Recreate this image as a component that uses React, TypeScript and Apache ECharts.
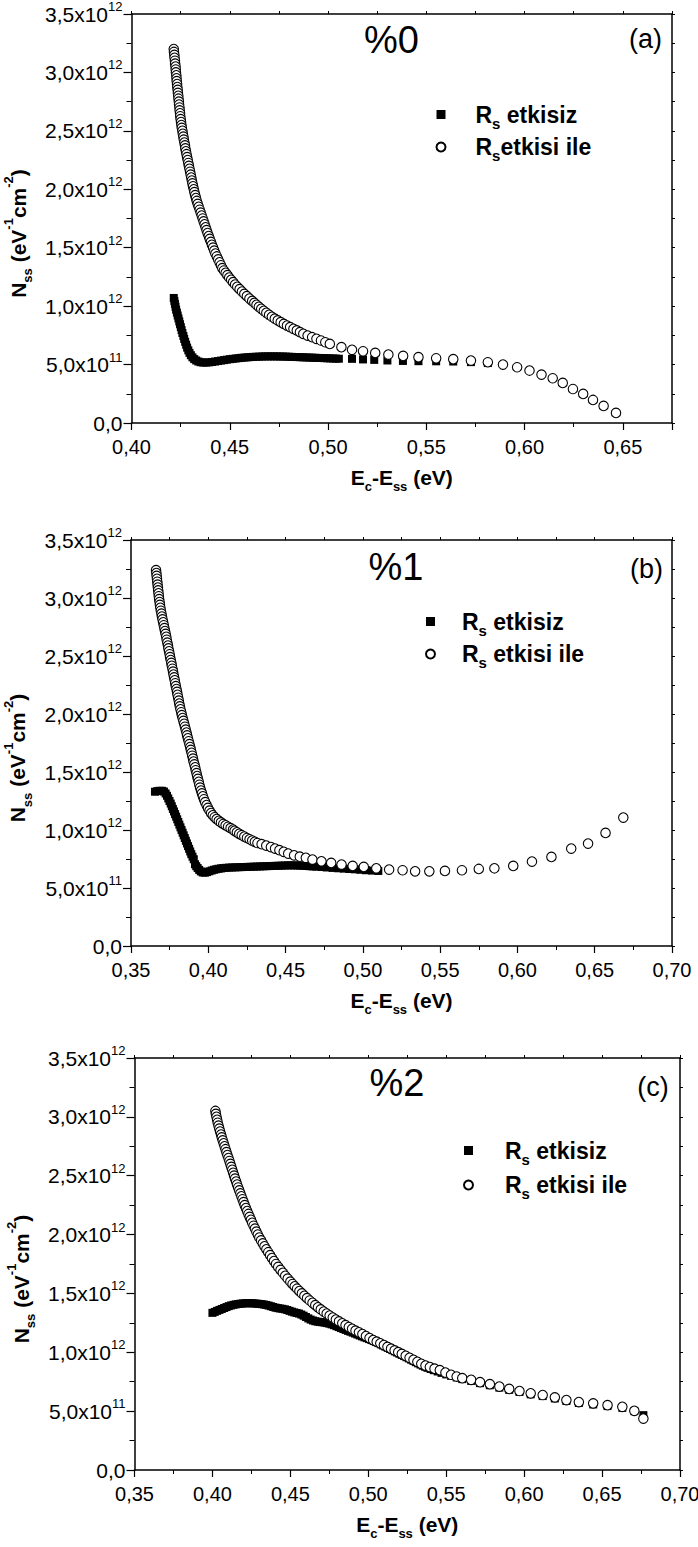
import React, { useEffect, useRef } from 'react';
import * as echarts from 'echarts';

const FONT = '"Liberation Sans", Arial, Helvetica, sans-serif';
const UNIT = 1e12; // y values below are in units of 1e12 eV^-1 cm^-2

const PANEL_TITLES = ['%0', '%1', '%2'];
const PANEL_TAGS = ['(a)', '(b)', '(c)'];
const X_MIN = [0.40, 0.35, 0.35];
const X_MAX = [0.675, 0.70, 0.70];
const X_STEP = 0.05;
const Y_MIN = 0;
const Y_MAX = 3.5e12;
const Y_STEP = 0.5e12;
const SERIES_NAMES = ['Rs etkisiz', 'Rs etkisi ile'];

// ---- panel (a) %0 ----
const A_SQUARES: [number, number][] = [
  [0.4215, 1.070], [0.4218, 1.045], [0.4221, 1.020], [0.4224, 0.995], [0.4227, 0.970], [0.4231, 0.945],
  [0.4235, 0.920], [0.4239, 0.895], [0.4243, 0.870], [0.4247, 0.845], [0.4251, 0.820], [0.4255, 0.795],
  [0.4259, 0.770], [0.4264, 0.745], [0.4268, 0.720], [0.4273, 0.695], [0.4278, 0.670], [0.4283, 0.645],
  [0.4289, 0.622], [0.4295, 0.600], [0.4302, 0.580], [0.4310, 0.562], [0.4319, 0.547], [0.4329, 0.535],
  [0.4340, 0.526], [0.4352, 0.520], [0.4365, 0.517], [0.4380, 0.517], [0.4395, 0.519], [0.4410, 0.522],
  [0.4425, 0.526], [0.4440, 0.530], [0.4455, 0.534], [0.4470, 0.538], [0.4485, 0.542], [0.4500, 0.546],
  [0.4515, 0.549], [0.4530, 0.552], [0.4545, 0.555], [0.4560, 0.558], [0.4575, 0.560], [0.4590, 0.562],
  [0.4605, 0.564], [0.4620, 0.566], [0.4635, 0.567], [0.4650, 0.568], [0.4665, 0.569], [0.4680, 0.570],
  [0.4695, 0.570], [0.4710, 0.570], [0.4725, 0.570], [0.4740, 0.570], [0.4755, 0.569], [0.4770, 0.569],
  [0.4785, 0.568], [0.4800, 0.567], [0.4815, 0.566], [0.4830, 0.565], [0.4845, 0.564], [0.4860, 0.563],
  [0.4875, 0.562], [0.4890, 0.561], [0.4905, 0.560], [0.4920, 0.559], [0.4935, 0.558], [0.4950, 0.557],
  [0.4965, 0.556], [0.4980, 0.555], [0.4995, 0.554], [0.5010, 0.553], [0.5025, 0.552], [0.5040, 0.551],
  [0.5055, 0.550], [0.5122, 0.549], [0.5178, 0.544], [0.5235, 0.540], [0.5302, 0.535], [0.5381, 0.531],
  [0.5460, 0.529], [0.5550, 0.528], [0.5637, 0.526], [0.5727, 0.521], [0.5813, 0.513],
];
const A_CIRCLES: [number, number][] = [
  [0.4215, 3.200], [0.4216, 3.175], [0.4218, 3.150], [0.4219, 3.125], [0.4221, 3.100], [0.4222, 3.075],
  [0.4224, 3.050], [0.4225, 3.025], [0.4226, 3.000], [0.4228, 2.975], [0.4229, 2.950], [0.4230, 2.925],
  [0.4232, 2.900], [0.4233, 2.875], [0.4235, 2.850], [0.4236, 2.825], [0.4238, 2.800], [0.4239, 2.775],
  [0.4241, 2.750], [0.4242, 2.725], [0.4244, 2.700], [0.4245, 2.675], [0.4247, 2.650], [0.4248, 2.625],
  [0.4250, 2.600], [0.4252, 2.575], [0.4254, 2.550], [0.4256, 2.525], [0.4259, 2.500], [0.4261, 2.475],
  [0.4264, 2.450], [0.4266, 2.425], [0.4269, 2.400], [0.4272, 2.375], [0.4274, 2.350], [0.4277, 2.325],
  [0.4280, 2.300], [0.4283, 2.275], [0.4286, 2.250], [0.4289, 2.225], [0.4292, 2.200], [0.4295, 2.175],
  [0.4298, 2.150], [0.4301, 2.125], [0.4304, 2.100], [0.4307, 2.075], [0.4310, 2.050], [0.4313, 2.025],
  [0.4317, 2.000], [0.4320, 1.975], [0.4324, 1.950], [0.4328, 1.925], [0.4332, 1.900], [0.4337, 1.875],
  [0.4342, 1.850], [0.4347, 1.825], [0.4352, 1.800], [0.4357, 1.775], [0.4362, 1.750], [0.4367, 1.725],
  [0.4372, 1.700], [0.4377, 1.675], [0.4382, 1.650], [0.4387, 1.625], [0.4393, 1.600], [0.4398, 1.575],
  [0.4404, 1.550], [0.4409, 1.525], [0.4415, 1.500], [0.4421, 1.475], [0.4427, 1.450], [0.4434, 1.425],
  [0.4441, 1.400], [0.4448, 1.375], [0.4455, 1.350], [0.4462, 1.325], [0.4470, 1.305], [0.4479, 1.285],
  [0.4488, 1.265], [0.4497, 1.245], [0.4507, 1.225], [0.4517, 1.205], [0.4527, 1.185], [0.4538, 1.165],
  [0.4550, 1.145], [0.4562, 1.125], [0.4574, 1.105], [0.4587, 1.085], [0.4600, 1.065], [0.4614, 1.045],
  [0.4625, 1.028], [0.4636, 1.011], [0.4648, 0.994], [0.4660, 0.977], [0.4673, 0.960], [0.4686, 0.943],
  [0.4700, 0.926], [0.4714, 0.909], [0.4729, 0.893], [0.4744, 0.878], [0.4759, 0.863], [0.4775, 0.848],
  [0.4791, 0.834], [0.4807, 0.820], [0.4824, 0.806], [0.4841, 0.792], [0.4857, 0.777], [0.4874, 0.763],
  [0.4896, 0.748], [0.4919, 0.734], [0.4941, 0.720], [0.4964, 0.706], [0.4986, 0.691], [0.5009, 0.677],
  [0.5068, 0.649], [0.5122, 0.626], [0.5178, 0.614], [0.5240, 0.600], [0.5307, 0.586], [0.5382, 0.574],
  [0.5460, 0.563], [0.5550, 0.554], [0.5637, 0.546], [0.5727, 0.534], [0.5813, 0.520], [0.5890, 0.500],
  [0.5962, 0.477], [0.6025, 0.449], [0.6086, 0.414], [0.6143, 0.383], [0.6194, 0.343], [0.6246, 0.291],
  [0.6298, 0.249], [0.6348, 0.197], [0.6402, 0.146], [0.6465, 0.086],
];

// ---- panel (b) %1 ----
const B_SQUARES: [number, number][] = [
  [0.3655, 1.330], [0.3670, 1.335], [0.3685, 1.338], [0.3700, 1.338], [0.3713, 1.332], [0.3724, 1.315],
  [0.3733, 1.295], [0.3741, 1.272], [0.3749, 1.250], [0.3757, 1.228], [0.3764, 1.205], [0.3771, 1.182],
  [0.3778, 1.160], [0.3785, 1.137], [0.3792, 1.115], [0.3799, 1.092], [0.3806, 1.069], [0.3813, 1.046],
  [0.3820, 1.023], [0.3827, 1.000], [0.3834, 0.977], [0.3841, 0.954], [0.3848, 0.931], [0.3855, 0.907],
  [0.3862, 0.884], [0.3869, 0.861], [0.3876, 0.838], [0.3883, 0.815], [0.3890, 0.792], [0.3898, 0.770],
  [0.3906, 0.748], [0.3914, 0.705], [0.3922, 0.688], [0.3931, 0.672], [0.3941, 0.656], [0.3952, 0.643],
  [0.3964, 0.634], [0.3978, 0.632], [0.3992, 0.637], [0.4007, 0.644], [0.4022, 0.651], [0.4037, 0.657],
  [0.4052, 0.662], [0.4067, 0.666], [0.4082, 0.669], [0.4097, 0.672], [0.4115, 0.674], [0.4135, 0.676],
  [0.4155, 0.677], [0.4175, 0.678], [0.4195, 0.679], [0.4215, 0.680], [0.4235, 0.681], [0.4255, 0.682],
  [0.4275, 0.683], [0.4295, 0.684], [0.4315, 0.685], [0.4335, 0.686], [0.4355, 0.687], [0.4375, 0.688],
  [0.4395, 0.689], [0.4415, 0.690], [0.4435, 0.691], [0.4455, 0.692], [0.4475, 0.693], [0.4495, 0.694],
  [0.4515, 0.695], [0.4535, 0.695], [0.4555, 0.695], [0.4575, 0.694], [0.4595, 0.693], [0.4615, 0.692],
  [0.4635, 0.690], [0.4655, 0.688], [0.4675, 0.686], [0.4700, 0.684], [0.4732, 0.681], [0.4766, 0.677],
  [0.4804, 0.673], [0.4840, 0.670], [0.4876, 0.667], [0.4912, 0.664], [0.4948, 0.661], [0.4984, 0.657],
  [0.5020, 0.653], [0.5060, 0.650], [0.5100, 0.647],
];
const B_CIRCLES: [number, number][] = [
  [0.3662, 3.240], [0.3664, 3.215], [0.3666, 3.190], [0.3668, 3.165], [0.3670, 3.140], [0.3672, 3.115],
  [0.3674, 3.090], [0.3676, 3.065], [0.3678, 3.040], [0.3680, 3.015], [0.3682, 2.990], [0.3685, 2.965],
  [0.3687, 2.940], [0.3690, 2.915], [0.3693, 2.890], [0.3697, 2.865], [0.3700, 2.840], [0.3704, 2.815],
  [0.3708, 2.790], [0.3712, 2.765], [0.3716, 2.740], [0.3720, 2.715], [0.3724, 2.690], [0.3728, 2.665],
  [0.3731, 2.640], [0.3735, 2.615], [0.3739, 2.590], [0.3742, 2.565], [0.3746, 2.540], [0.3750, 2.515],
  [0.3753, 2.490], [0.3757, 2.465], [0.3761, 2.440], [0.3764, 2.415], [0.3768, 2.390], [0.3772, 2.365],
  [0.3775, 2.340], [0.3779, 2.315], [0.3783, 2.290], [0.3786, 2.265], [0.3790, 2.240], [0.3794, 2.215],
  [0.3798, 2.190], [0.3801, 2.165], [0.3805, 2.140], [0.3809, 2.115], [0.3812, 2.090], [0.3816, 2.065],
  [0.3820, 2.040], [0.3825, 2.015], [0.3829, 1.990], [0.3834, 1.965], [0.3839, 1.940], [0.3844, 1.915],
  [0.3849, 1.890], [0.3854, 1.865], [0.3859, 1.840], [0.3863, 1.815], [0.3868, 1.790], [0.3873, 1.765],
  [0.3878, 1.740], [0.3883, 1.715], [0.3887, 1.690], [0.3892, 1.665], [0.3896, 1.640], [0.3901, 1.615],
  [0.3905, 1.590], [0.3910, 1.565], [0.3915, 1.540], [0.3919, 1.515], [0.3924, 1.490], [0.3928, 1.465],
  [0.3933, 1.440], [0.3938, 1.415], [0.3942, 1.390], [0.3947, 1.365], [0.3953, 1.340], [0.3959, 1.315],
  [0.3965, 1.290], [0.3972, 1.265], [0.3980, 1.240], [0.3989, 1.215], [0.3998, 1.190], [0.4008, 1.167],
  [0.4018, 1.146], [0.4029, 1.127], [0.4041, 1.110], [0.4054, 1.094], [0.4068, 1.079], [0.4082, 1.065],
  [0.4097, 1.052], [0.4112, 1.040], [0.4128, 1.028], [0.4144, 1.016], [0.4160, 1.004], [0.4170, 0.993],
  [0.4185, 0.980], [0.4200, 0.967], [0.4216, 0.955], [0.4233, 0.943], [0.4250, 0.931], [0.4267, 0.920],
  [0.4284, 0.909], [0.4301, 0.898], [0.4318, 0.888], [0.4345, 0.878], [0.4375, 0.866], [0.4405, 0.853],
  [0.4432, 0.840], [0.4460, 0.826], [0.4488, 0.812], [0.4517, 0.797], [0.4555, 0.782], [0.4592, 0.770],
  [0.4631, 0.760], [0.4674, 0.745], [0.4732, 0.730], [0.4795, 0.716], [0.4862, 0.702], [0.4934, 0.690],
  [0.5006, 0.682], [0.5087, 0.670], [0.5170, 0.659], [0.5257, 0.653], [0.5338, 0.644], [0.5430, 0.644],
  [0.5531, 0.647], [0.5641, 0.653], [0.5750, 0.664], [0.5851, 0.670], [0.5973, 0.690], [0.6094, 0.728],
  [0.6220, 0.768], [0.6348, 0.840], [0.6457, 0.883], [0.6570, 0.975], [0.6685, 1.107],
];

// ---- panel (c) %2 ----
const C_SQUARES: [number, number][] = [
  [0.4000, 1.335], [0.4015, 1.343], [0.4030, 1.352], [0.4045, 1.360], [0.4060, 1.368], [0.4075, 1.376],
  [0.4090, 1.384], [0.4105, 1.392], [0.4120, 1.398], [0.4135, 1.403], [0.4150, 1.407], [0.4165, 1.410],
  [0.4180, 1.413], [0.4195, 1.415], [0.4210, 1.416], [0.4225, 1.417], [0.4240, 1.417], [0.4255, 1.416],
  [0.4270, 1.415], [0.4285, 1.413], [0.4300, 1.411], [0.4315, 1.409], [0.4330, 1.406], [0.4345, 1.402],
  [0.4360, 1.397], [0.4375, 1.391], [0.4390, 1.385], [0.4405, 1.379], [0.4420, 1.375], [0.4435, 1.372],
  [0.4450, 1.369], [0.4465, 1.365], [0.4480, 1.359], [0.4495, 1.352], [0.4510, 1.345], [0.4525, 1.339],
  [0.4540, 1.334], [0.4555, 1.329], [0.4570, 1.321], [0.4585, 1.311], [0.4600, 1.300], [0.4615, 1.288],
  [0.4630, 1.278], [0.4645, 1.270], [0.4660, 1.264], [0.4675, 1.260], [0.4690, 1.257], [0.4705, 1.255],
  [0.4720, 1.252], [0.4735, 1.248], [0.4750, 1.243], [0.4765, 1.237], [0.4780, 1.230], [0.4795, 1.222],
  [0.4810, 1.214], [0.4825, 1.206], [0.4840, 1.198], [0.4855, 1.190], [0.4870, 1.182], [0.4885, 1.175],
  [0.4900, 1.167], [0.4915, 1.159], [0.4930, 1.151], [0.4945, 1.143], [0.4960, 1.135], [0.4975, 1.127],
  [0.4990, 1.120], [0.5005, 1.112], [0.5020, 1.104], [0.5035, 1.096], [0.5050, 1.087], [0.5065, 1.078],
  [0.5080, 1.068], [0.5095, 1.058], [0.5110, 1.048], [0.5125, 1.038], [0.5140, 1.028], [0.5155, 1.018],
  [0.5170, 1.008], [0.5185, 0.998], [0.5200, 0.988], [0.5215, 0.978], [0.5230, 0.968], [0.5245, 0.958],
  [0.5260, 0.948], [0.5275, 0.937], [0.5290, 0.927], [0.5305, 0.916], [0.5320, 0.906], [0.5335, 0.896],
  [0.5350, 0.886], [0.5365, 0.877], [0.5380, 0.868], [0.5400, 0.858], [0.5420, 0.848], [0.5445, 0.837],
  [0.5470, 0.825], [0.5500, 0.812], [0.5531, 0.800], [0.5567, 0.786], [0.5603, 0.772], [0.5660, 0.757],
  [0.5717, 0.738], [0.5780, 0.720], [0.5841, 0.700], [0.5904, 0.681], [0.5970, 0.663], [0.6042, 0.643],
  [0.6119, 0.628], [0.6197, 0.608], [0.6271, 0.586], [0.6351, 0.569], [0.6443, 0.557], [0.6535, 0.543],
  [0.6630, 0.528], [0.6707, 0.500], [0.6765, 0.466],
];
const C_CIRCLES: [number, number][] = [
  [0.4019, 3.050], [0.4022, 3.025], [0.4026, 3.000], [0.4030, 2.975], [0.4034, 2.950], [0.4039, 2.925],
  [0.4044, 2.900], [0.4049, 2.875], [0.4055, 2.850], [0.4060, 2.825], [0.4066, 2.800], [0.4072, 2.775],
  [0.4078, 2.750], [0.4084, 2.725], [0.4090, 2.700], [0.4096, 2.675], [0.4103, 2.650], [0.4109, 2.625],
  [0.4115, 2.600], [0.4121, 2.575], [0.4127, 2.550], [0.4133, 2.525], [0.4139, 2.500], [0.4145, 2.475],
  [0.4152, 2.450], [0.4158, 2.425], [0.4165, 2.400], [0.4172, 2.375], [0.4179, 2.350], [0.4186, 2.325],
  [0.4193, 2.300], [0.4200, 2.275], [0.4207, 2.250], [0.4215, 2.225], [0.4223, 2.200], [0.4231, 2.175],
  [0.4239, 2.150], [0.4247, 2.125], [0.4255, 2.100], [0.4264, 2.075], [0.4273, 2.050], [0.4282, 2.025],
  [0.4291, 2.000], [0.4301, 1.975], [0.4312, 1.950], [0.4323, 1.925], [0.4334, 1.900], [0.4346, 1.875],
  [0.4358, 1.850], [0.4370, 1.825], [0.4382, 1.800], [0.4395, 1.775], [0.4408, 1.750], [0.4422, 1.725],
  [0.4437, 1.700], [0.4452, 1.675], [0.4467, 1.650], [0.4483, 1.625], [0.4500, 1.600], [0.4514, 1.580],
  [0.4528, 1.560], [0.4543, 1.540], [0.4558, 1.520], [0.4574, 1.500], [0.4590, 1.480], [0.4607, 1.460],
  [0.4624, 1.440], [0.4642, 1.420], [0.4660, 1.400], [0.4677, 1.382], [0.4695, 1.364], [0.4714, 1.346],
  [0.4733, 1.329], [0.4752, 1.312], [0.4772, 1.295], [0.4792, 1.278], [0.4812, 1.262], [0.4833, 1.246],
  [0.4854, 1.230], [0.4875, 1.214], [0.4896, 1.199], [0.4918, 1.184], [0.4940, 1.170], [0.4962, 1.155],
  [0.4985, 1.138], [0.5008, 1.121], [0.5031, 1.104], [0.5054, 1.090], [0.5077, 1.076], [0.5100, 1.061],
  [0.5123, 1.046], [0.5146, 1.031], [0.5169, 1.016], [0.5192, 1.001], [0.5215, 0.986], [0.5240, 0.970],
  [0.5265, 0.953], [0.5290, 0.936], [0.5315, 0.919], [0.5340, 0.902], [0.5367, 0.887], [0.5395, 0.874],
  [0.5425, 0.861], [0.5459, 0.848], [0.5495, 0.828], [0.5531, 0.809], [0.5567, 0.794], [0.5603, 0.780],
  [0.5660, 0.766], [0.5717, 0.746], [0.5780, 0.729], [0.5841, 0.709], [0.5904, 0.689], [0.5970, 0.671],
  [0.6042, 0.651], [0.6119, 0.637], [0.6197, 0.617], [0.6271, 0.594], [0.6351, 0.577], [0.6443, 0.566],
  [0.6535, 0.551], [0.6630, 0.537], [0.6707, 0.503], [0.6765, 0.437],
];

const SQUARES = [A_SQUARES, B_SQUARES, C_SQUARES];
const CIRCLES = [A_CIRCLES, B_CIRCLES, C_CIRCLES];

// ---- layout (pixels) ----
const GRIDS = [
  { left: 131.5, top: 14, width: 540.5, height: 409 },
  { left: 131, top: 540, width: 541, height: 406 },
  { left: 134.5, top: 1058, width: 545.5, height: 412 },
];
const TITLE_POS = [[391.5, 40], [396, 567], [397, 1083]];
const TAG_POS = [[645.5, 39], [646.5, 569], [653, 1086.5]];
const LEGEND_POS = [
  { left: 435.5, top: 103, gap: 5, spacer: 25, tight: true },
  { left: 425, top: 610, gap: 5, spacer: 22, tight: false },
  { left: 463, top: 1139, gap: 7, spacer: 27, tight: false },
];

const BLACK = '#000';

function xLabel(v: number): string {
  const k = v / X_STEP;
  if (Math.abs(k - Math.round(k)) > 1e-6) return '';
  return v.toFixed(2).replace('.', ',');
}

function yLabel(v: number): string {
  if (v === 0) return '{m|0,0}';
  const exp = Math.floor(Math.log10(v) + 1e-9);
  const mant = (v / Math.pow(10, exp)).toFixed(1).replace('.', ',');
  return `{m|${mant}x10}{p|${exp}}`;
}

const tickRich = {
  m: { fontSize: 21, fontFamily: FONT, color: BLACK, lineHeight: 28 },
  p: { fontSize: 13, fontFamily: FONT, color: BLACK, lineHeight: 16, verticalAlign: 'top' },
};

const nameRich = {
  m: { fontSize: 21, fontWeight: 'bold', fontFamily: FONT, color: BLACK, lineHeight: 32 },
  s: { fontSize: 13, fontWeight: 'bold', fontFamily: FONT, color: BLACK, lineHeight: 2, verticalAlign: 'bottom' },
  p: { fontSize: 13, fontWeight: 'bold', fontFamily: FONT, color: BLACK, lineHeight: 12, verticalAlign: 'top' },
};

function buildOption() {
  const grid: any[] = [];
  const xAxis: any[] = [];
  const yAxis: any[] = [];
  const series: any[] = [];
  const legend: any[] = [];
  const graphic: any[] = [];

  for (let i = 0; i < 3; i++) {
    grid.push({ ...GRIDS[i], containLabel: false, outerBoundsMode: 'none' });
    const lineStyle = { color: BLACK, width: 1.5 };
    xAxis.push({
      type: 'value', gridIndex: i, position: 'bottom',
      min: X_MIN[i], max: X_MAX[i], interval: X_STEP,
      axisLine: { show: true, onZero: false, lineStyle },
      axisTick: { show: true, inside: false, length: 7, lineStyle: { color: BLACK, width: 1.2 } },
      minorTick: { show: true, splitNumber: 2, length: 4, lineStyle: { color: BLACK, width: 1 } },
      splitLine: { show: false }, minorSplitLine: { show: false },
      axisLabel: { formatter: xLabel, color: BLACK, fontSize: 20, fontFamily: FONT, margin: 13, lineHeight: 22 },
      name: '{m|E}{s|c}{m|-E}{s|ss}{m| (eV)}',
      nameLocation: 'middle', nameGap: 38,
      nameTextStyle: { rich: nameRich },
    });
    xAxis.push({
      type: 'value', gridIndex: i, position: 'top',
      min: X_MIN[i], max: X_MAX[i], interval: X_STEP,
      axisLine: { show: true, onZero: false, lineStyle },
      axisTick: { show: true, inside: false, length: 3, lineStyle: { color: BLACK, width: 1 } },
      minorTick: { show: true, splitNumber: 2, length: 3, lineStyle: { color: BLACK, width: 1 } },
      splitLine: { show: false }, axisLabel: { show: false },
    });
    yAxis.push({
      type: 'value', gridIndex: i, position: 'left',
      min: Y_MIN, max: Y_MAX, interval: Y_STEP,
      axisLine: { show: true, onZero: false, lineStyle },
      axisTick: { show: true, inside: false, length: 8, lineStyle: { color: BLACK, width: 1.2 } },
      minorTick: { show: true, splitNumber: 2, length: 5, lineStyle: { color: BLACK, width: 1 } },
      splitLine: { show: false }, minorSplitLine: { show: false },
      axisLabel: { formatter: yLabel, margin: 9, rich: tickRich },
      name: '{m|N}{s|ss}{m| (eV}{p|-1}{m|cm}{p|-2}{m|)}',
      nameLocation: 'middle', nameGap: 88,
      nameTextStyle: { rich: nameRich, padding: [0, 30, 0, 0] },
    });
    yAxis.push({
      type: 'value', gridIndex: i, position: 'right',
      min: Y_MIN, max: Y_MAX, interval: Y_STEP,
      axisLine: { show: true, onZero: false, lineStyle },
      axisTick: { show: true, inside: false, length: 3, lineStyle: { color: BLACK, width: 1 } },
      minorTick: { show: true, splitNumber: 2, length: 3, lineStyle: { color: BLACK, width: 1 } },
      splitLine: { show: false }, axisLabel: { show: false },
    });

    series.push({
      type: 'scatter', name: SERIES_NAMES[0], xAxisIndex: 2 * i, yAxisIndex: 2 * i,
      symbol: 'rect', symbolSize: 8, itemStyle: { color: BLACK, opacity: 1 }, silent: true,
      data: SQUARES[i].map(([x, y]) => [x, y * UNIT]),
    });
    series.push({
      type: 'scatter', name: SERIES_NAMES[1], xAxisIndex: 2 * i, yAxisIndex: 2 * i,
      symbol: 'circle', symbolSize: 9.5,
      itemStyle: { color: '#fff', borderColor: BLACK, borderWidth: 1.1, opacity: 1 }, silent: true,
      data: CIRCLES[i].map(([x, y]) => [x, y * UNIT]),
    });

    const lp = LEGEND_POS[i];
    legend.push({
      orient: 'vertical', left: lp.left, top: lp.top, itemGap: lp.gap,
      itemWidth: 9, itemHeight: 9, selectedMode: false, padding: 0,
      data: [{ name: SERIES_NAMES[0], icon: 'rect' }, { name: SERIES_NAMES[1], icon: 'circle' }],
      formatter: (name: string) => {
        if (name === SERIES_NAMES[0]) return '{g|}{r|R}{s|s}{r| etkisiz}';
        return lp.tight ? '{g|}{r|R}{s|s}{r|etkisi ile}' : '{g|}{r|R}{s|s}{r| etkisi ile}';
      },
      textStyle: {
        rich: {
          g: { width: lp.spacer, height: 2 },
          r: { fontSize: 23, fontWeight: 'bold', fontFamily: FONT, color: BLACK, lineHeight: 32 },
          s: { fontSize: 15, fontWeight: 'bold', fontFamily: FONT, color: BLACK, lineHeight: 2, verticalAlign: 'bottom' },
        },
      },
    });

    graphic.push({
      type: 'text', x: TITLE_POS[i][0], y: TITLE_POS[i][1], silent: true,
      style: { text: PANEL_TITLES[i], fontSize: 38, fontFamily: FONT, fill: BLACK, align: 'center', verticalAlign: 'middle' },
    });
    graphic.push({
      type: 'text', x: TAG_POS[i][0], y: TAG_POS[i][1], silent: true,
      style: { text: PANEL_TAGS[i], fontSize: 27, fontFamily: FONT, fill: BLACK, align: 'center', verticalAlign: 'middle' },
    });
  }

  return {
    animation: false,
    backgroundColor: '#fff',
    textStyle: { fontFamily: FONT },
    grid, xAxis, yAxis, series, legend, graphic,
  };
}

export default function App() {
  const ref = useRef<HTMLDivElement>(null);
  useEffect(() => {
    if (!ref.current) return;
    const chart = echarts.init(ref.current, null, { renderer: 'svg' });
    chart.setOption(buildOption() as any);
    return () => chart.dispose();
  }, []);
  return (
    <div
      ref={ref}
      style={{ position: 'absolute', left: 0, top: 0, width: 698, height: 1547, background: '#fff' }}
    />
  );
}
